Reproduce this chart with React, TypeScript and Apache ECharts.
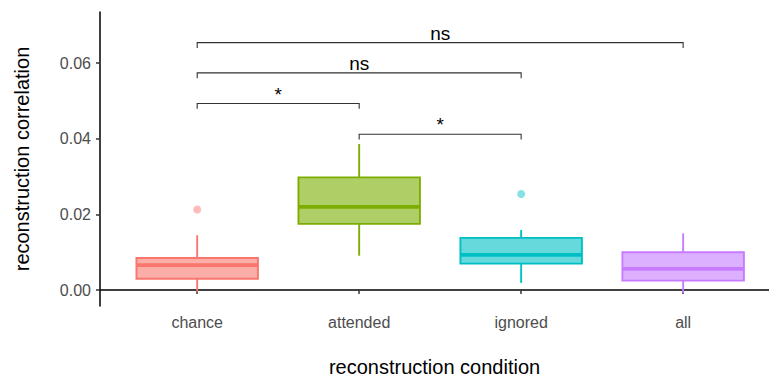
import React, { useEffect, useRef } from "react";
import * as echarts from "echarts";

const categories = ["chance", "attended", "ignored", "all"];
const lineColors = ["#F8766D", "#7CAE00", "#00BFC4", "#C77CFF"];
const fillColors = ["#FBADA7", "#B0CE66", "#66D9DC", "#DDB0FF"];

const whiskerLow = [-0.0004, 0.0091, 0.0019, -0.0007];
const q1 = [0.003, 0.0175, 0.007, 0.0025];
const median = [0.0066, 0.022, 0.0093, 0.0056];
const q3 = [0.0085, 0.0298, 0.0138, 0.01];
const whiskerHigh = [0.0145, 0.0386, 0.0159, 0.015];

const outlierCategory = [1, 3];
const outlierValue = [0.0213, 0.0254];

const bracketFrom = [1, 1, 1, 2];
const bracketTo = [4, 3, 2, 3];
const bracketY = [0.0654, 0.0574, 0.0493, 0.0412];
const bracketLabels = ["ns", "ns", "*", "*"];

const yTicks = [0, 0.02, 0.04, 0.06];
const xTicks = [1, 2, 3, 4];

const FONT = "'Liberation Sans', Arial, sans-serif";

export default function App() {
  const ref = useRef<HTMLDivElement>(null);
  useEffect(() => {
    if (!ref.current) return;
    const chart = echarts.init(ref.current, null, { renderer: "svg" });
    const boxData = categories.map((_, i) => [
      i + 1,
      whiskerLow[i],
      q1[i],
      median[i],
      q3[i],
      whiskerHigh[i],
    ]);
    const bracketData = bracketFrom.map((f, i) => [f, bracketTo[i], bracketY[i], i]);
    chart.setOption({
      animation: false,
      grid: { left: 100, right: 0, top: 12, bottom: 71, containLabel: false, outerBoundsMode: "none" },
      xAxis: {
        type: "value",
        min: 0.4,
        max: 4.53,
        name: "reconstruction condition",
        nameLocation: "middle",
        nameGap: 51,
        nameTextStyle: { fontSize: 20, color: "#000", fontFamily: FONT },
        axisLine: { show: true, lineStyle: { color: "#000", width: 1.5 } },
        axisTick: { show: true, length: 4, customValues: xTicks, lineStyle: { color: "#333", width: 1.5 } },
        axisLabel: {
          customValues: xTicks,
          margin: 8,
          fontSize: 16,
          color: "#4D4D4D",
          fontFamily: FONT,
          formatter: (v: number) => categories[Math.round(v) - 1] ?? "",
        },
        splitLine: { show: false },
      },
      yAxis: {
        type: "value",
        min: -0.0042,
        max: 0.0735,
        name: "reconstruction correlation",
        nameLocation: "middle",
        nameGap: 68,
        nameTextStyle: { fontSize: 20, color: "#000", fontFamily: FONT },
        axisLine: { show: true, lineStyle: { color: "#000", width: 1.5 } },
        axisTick: { show: true, length: 4, customValues: yTicks, lineStyle: { color: "#333", width: 1.5 } },
        axisLabel: {
          customValues: yTicks,
          margin: 9,
          fontSize: 16,
          color: "#4D4D4D",
          fontFamily: FONT,
          formatter: (v: number) => v.toFixed(2),
        },
        splitLine: { show: false },
      },
      series: [
        {
          type: "custom",
          data: boxData,
          encode: { x: 0, y: [1, 2, 3, 4, 5] },
          renderItem: (params: any, api: any) => {
            const i = params.dataIndex;
            const x = api.value(0);
            const w = api.size([0.75, 0])[0];
            const pLow = api.coord([x, api.value(1)]);
            const pQ1 = api.coord([x, api.value(2)]);
            const pMed = api.coord([x, api.value(3)]);
            const pQ3 = api.coord([x, api.value(4)]);
            const pHigh = api.coord([x, api.value(5)]);
            const cx = pMed[0];
            const col = lineColors[i];
            return {
              type: "group",
              children: [
                {
                  type: "line",
                  shape: { x1: cx, y1: pHigh[1], x2: cx, y2: pQ3[1] },
                  style: { stroke: col, lineWidth: 1.9 },
                },
                {
                  type: "line",
                  shape: { x1: cx, y1: pQ1[1], x2: cx, y2: pLow[1] },
                  style: { stroke: col, lineWidth: 1.9 },
                },
                {
                  type: "rect",
                  shape: { x: cx - w / 2, y: pQ3[1], width: w, height: pQ1[1] - pQ3[1] },
                  style: { fill: fillColors[i], stroke: col, lineWidth: 1.9 },
                },
                {
                  type: "line",
                  shape: { x1: cx - w / 2, y1: pMed[1], x2: cx + w / 2, y2: pMed[1] },
                  style: { stroke: col, lineWidth: 3.8 },
                },
              ],
            };
          },
        },
        {
          type: "scatter",
          symbolSize: 8,
          data: outlierCategory.map((c, i) => ({
            value: [c, outlierValue[i]],
            itemStyle: { color: fillColors[c - 1] },
          })),
        },
        {
          type: "custom",
          data: bracketData,
          encode: { x: [0, 1], y: 2 },
          clip: false,
          renderItem: (params: any, api: any) => {
            const i = params.dataIndex;
            const p1 = api.coord([api.value(0), api.value(2)]);
            const p2 = api.coord([api.value(1), api.value(2)]);
            const drop = api.size([0, 0.0014])[1];
            return {
              type: "group",
              children: [
                {
                  type: "polyline",
                  shape: {
                    points: [
                      [p1[0], p1[1] + drop],
                      [p1[0], p1[1]],
                      [p2[0], p2[1]],
                      [p2[0], p2[1] + drop],
                    ],
                  },
                  style: { stroke: "#333", lineWidth: 1.1, fill: null },
                },
                {
                  type: "text",
                  x: (p1[0] + p2[0]) / 2,
                  y: p1[1] - 9.5,
                  style: {
                    text: bracketLabels[i],
                    fill: "#000",
                    fontSize: 19,
                    fontFamily: FONT,
                    align: "center",
                    verticalAlign: "middle",
                  },
                },
              ],
            };
          },
        },
      ],
    });
    return () => chart.dispose();
  }, []);
  return (
    <div
      ref={ref}
      style={{ position: "absolute", left: 0, top: 0, width: 769, height: 377 }}
    />
  );
}
